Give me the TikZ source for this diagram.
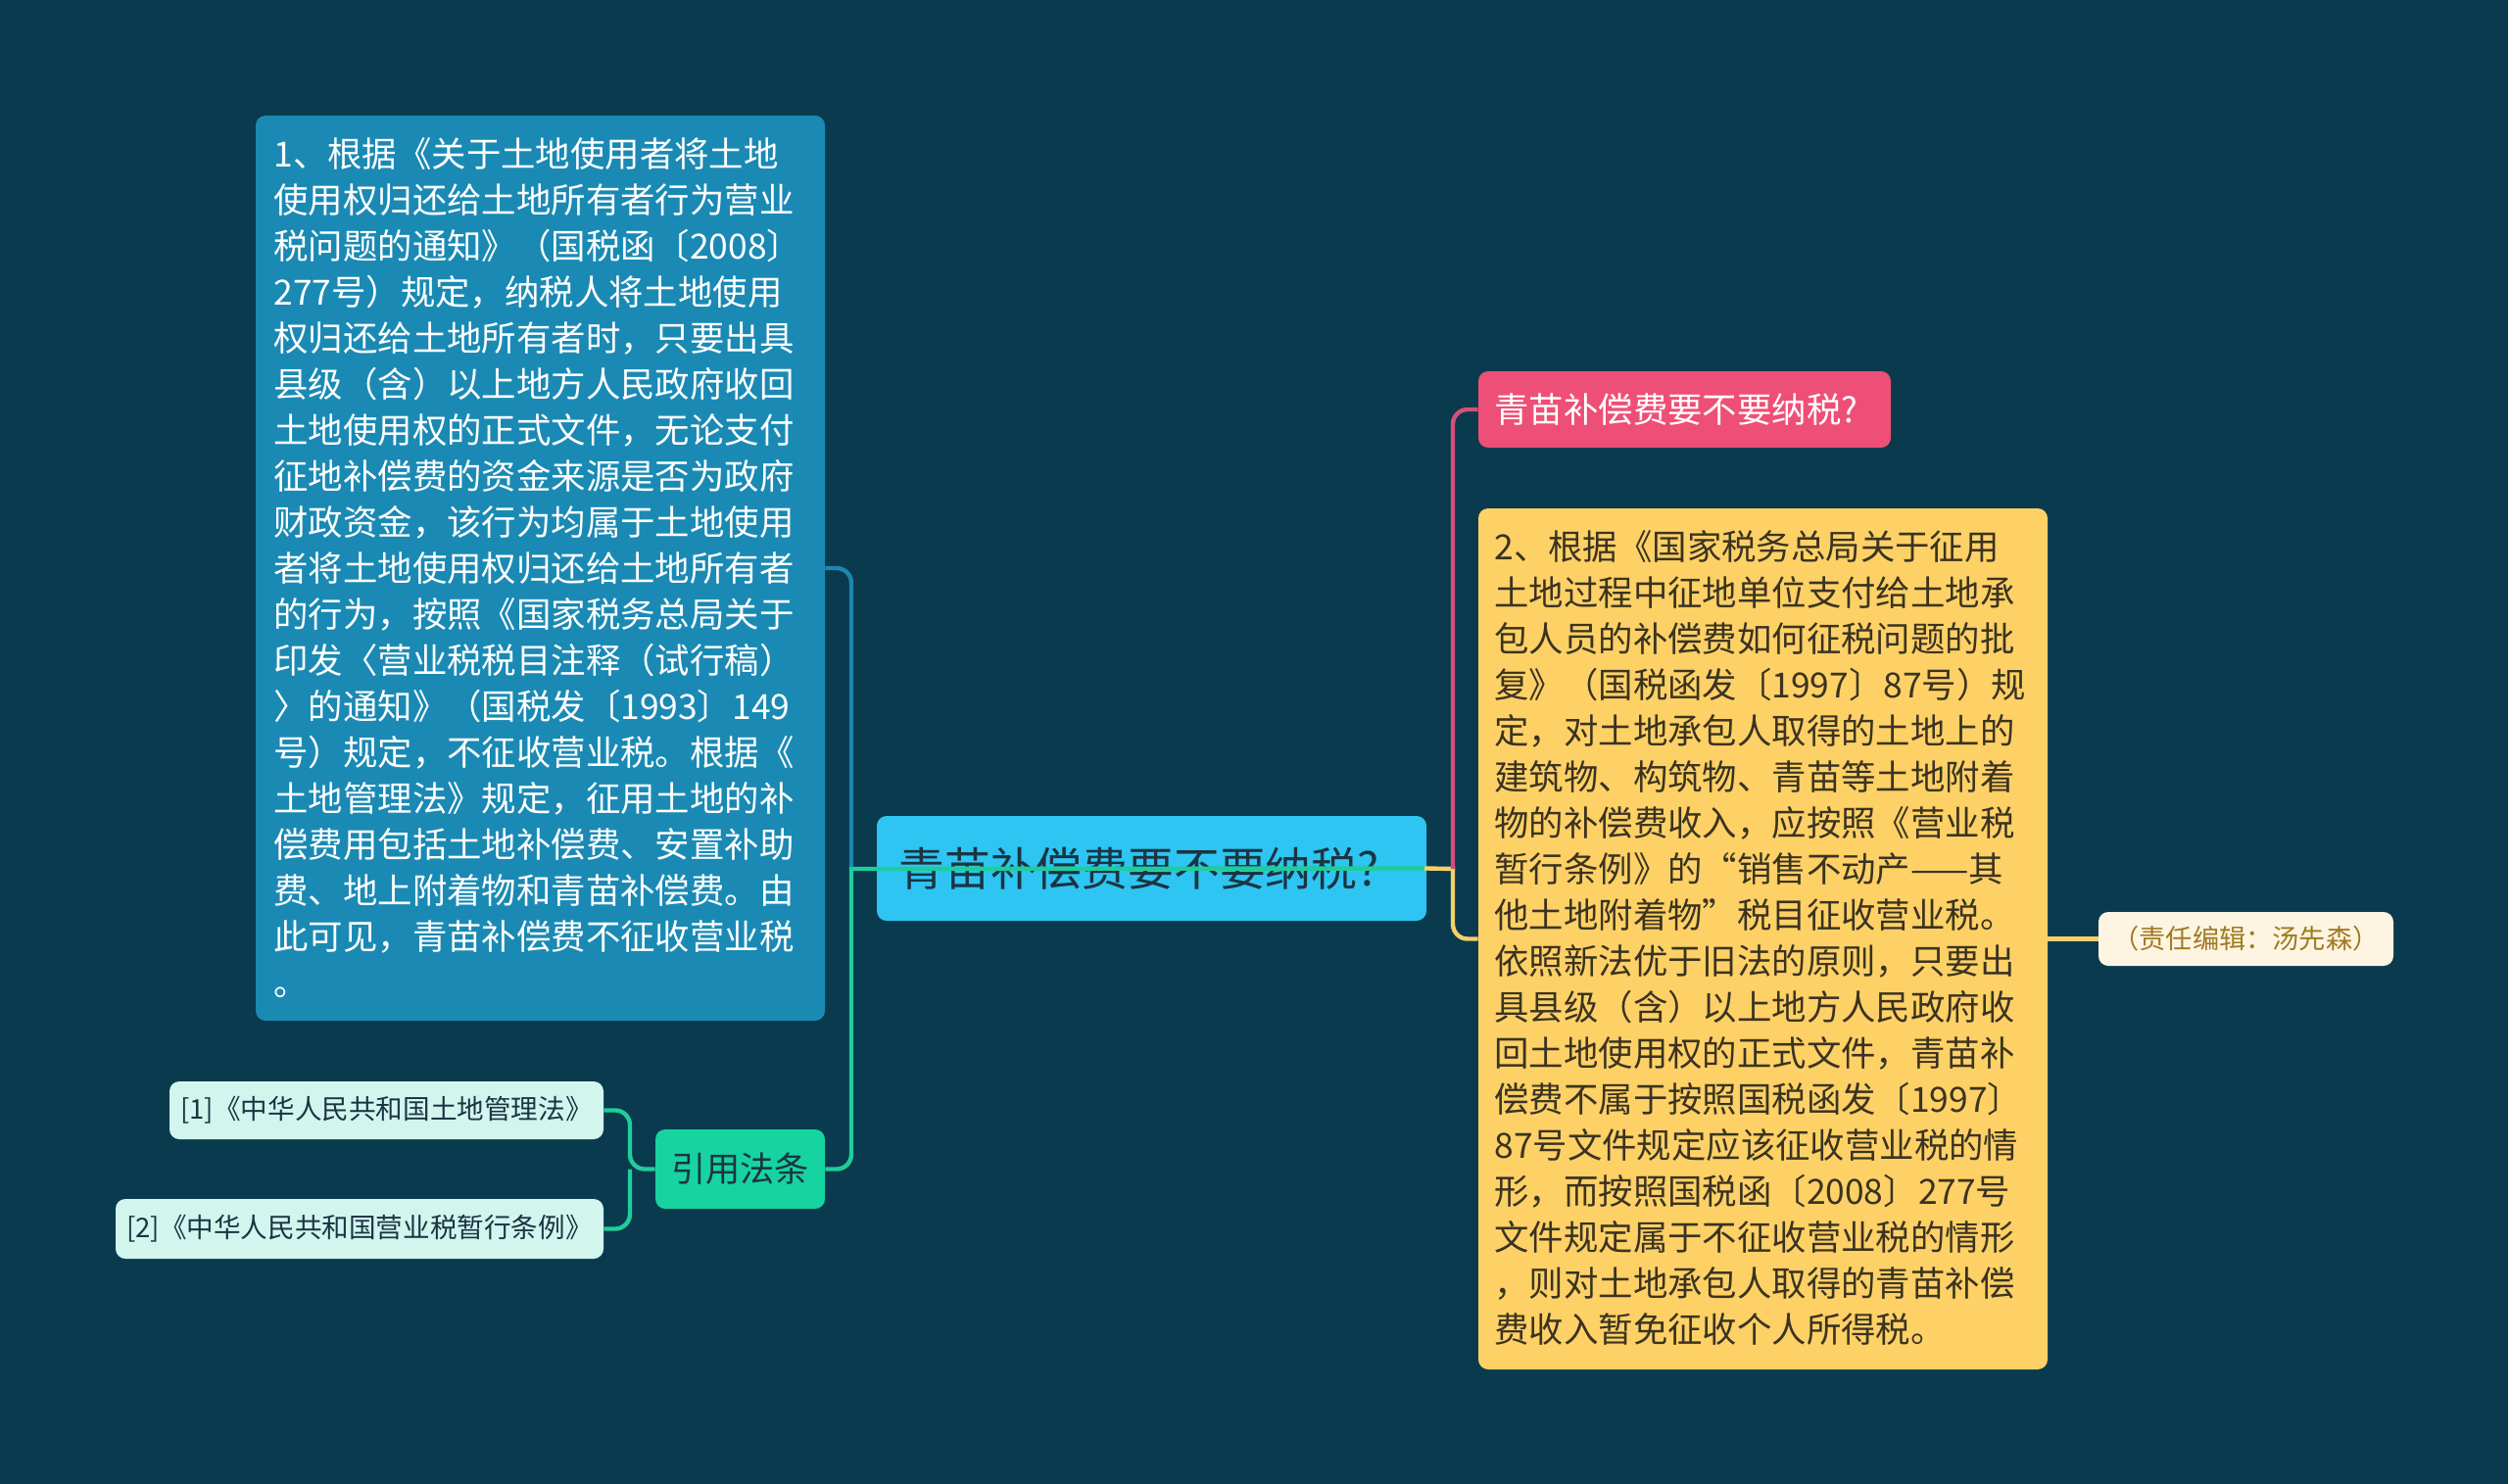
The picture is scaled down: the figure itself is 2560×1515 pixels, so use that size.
\documentclass[tikz,border=0pt]{standalone}
\usepackage{fontspec}
\newfontfamily\cjk{Noto Sans CJK SC}
\definecolor{bg}{HTML}{0A3A4D}
\definecolor{cblue}{HTML}{1A8AB4}
\definecolor{ccenter}{HTML}{2EC5F2}
\definecolor{cpink}{HTML}{EE4F76}
\definecolor{cyellow}{HTML}{FDD166}
\definecolor{cnote}{HTML}{FDF5E1}
\definecolor{cnotetxt}{HTML}{A07A22}
\definecolor{cgreen}{HTML}{16D3A0}
\definecolor{cmint}{HTML}{D2F6EE}
\definecolor{lgreen}{HTML}{1ECD9B}
\definecolor{lblue}{HTML}{1E86AE}
\definecolor{lpink}{HTML}{D64F79}
\definecolor{lyellow}{HTML}{F4D06A}
\definecolor{darktxt}{HTML}{1B3442}
\definecolor{yeltxt}{HTML}{3B3320}
\begin{document}
\begin{tikzpicture}[x=0.5pt,y=-0.5pt,
  box/.style={rounded corners=5pt, inner sep=0pt, draw=none},
  para/.style={inner sep=0pt, anchor=north west, align=left, font=\cjk\fontsize{17.7pt}{23.5pt}\selectfont},
  conn/.style={line width=2.2pt, rounded corners=7.5pt},
  sharp/.style={line width=2.2pt, line cap=rect}
]
\useasboundingbox (0,0) rectangle (2560,1515);
\fill[bg] (0,0) rectangle (2560,1515);

\coordinate (jL) at (869,887);
\coordinate (jR) at (1483,887);

% nodes
\node[box, fill=cblue, minimum width=290.5pt, minimum height=462pt] (blue) at (551.5,580) {};
\node[para, text=white] (bluetxt) at (279,135) {\rule{0pt}{17.5pt}1、根据《关于土地使用者将土地\\
使用权归还给土地所有者行为营业\\
税问题的通知》（国税函〔2008〕\\
277号）规定，纳税人将土地使用\\
权归还给土地所有者时，只要出具\\
县级（含）以上地方人民政府收回\\
土地使用权的正式文件，无论支付\\
征地补偿费的资金来源是否为政府\\
财政资金，该行为均属于土地使用\\
者将土地使用权归还给土地所有者\\
的行为，按照《国家税务总局关于\\
印发〈营业税税目注释（试行稿）\\
〉的通知》（国税发〔1993〕149\\
号）规定，不征收营业税。根据《\\
土地管理法》规定，征用土地的补\\
偿费用包括土地补偿费、安置补助\\
费、地上附着物和青苗补偿费。由\\
此可见，青苗补偿费不征收营业税\\
。};

\node[box, fill=ccenter, minimum width=280.5pt, minimum height=53.5pt] (center) at (1175.5,886.5) {};
\node[inner sep=0pt, anchor=west, text=darktxt, font=\cjk\fontsize{23.4pt}{28pt}\selectfont] (centertxt) at (917,887) {青苗补偿费要不要纳税?};

\node[box, fill=cpink, minimum width=210.5pt, minimum height=39pt] (pink) at (1719.5,418) {};
\node[inner sep=0pt, anchor=west, text=white, font=\cjk\fontsize{17.7pt}{21pt}\selectfont] (pinktxt) at (1525,418) {青苗补偿费要不要纳税?};

\node[box, fill=cyellow, minimum width=290.5pt, minimum height=439.5pt] (yellow) at (1799.5,958.5) {};
\node[para, text=yeltxt] (yellowtxt) at (1525,536) {\rule{0pt}{17.5pt}2、根据《国家税务总局关于征用\\
土地过程中征地单位支付给土地承\\
包人员的补偿费如何征税问题的批\\
复》（国税函发〔1997〕87号）规\\
定，对土地承包人取得的土地上的\\
建筑物、构筑物、青苗等土地附着\\
物的补偿费收入，应按照《营业税\\
暂行条例》的“销售不动产——其\\
他土地附着物”税目征收营业税。\\
依照新法优于旧法的原则，只要出\\
具县级（含）以上地方人民政府收\\
回土地使用权的正式文件，青苗补\\
偿费不属于按照国税函发〔1997〕\\
87号文件规定应该征收营业税的情\\
形，而按照国税函〔2008〕277号\\
文件规定属于不征收营业税的情形\\
，则对土地承包人取得的青苗补偿\\
费收入暂免征收个人所得税。};

\node[box, fill=cnote, text=cnotetxt, minimum width=150.5pt, minimum height=27.5pt, font=\cjk\fontsize{13.6pt}{16pt}\selectfont] (note) at (2292.5,958.5) {（责任编辑：汤先森）};

\node[box, fill=cgreen, text=darktxt, minimum width=86.5pt, minimum height=40.5pt, font=\cjk\fontsize{17.6pt}{21pt}\selectfont] (law) at (755.5,1193.5) {引用法条};

\node[box, fill=cmint, text=darktxt, minimum width=221.5pt, minimum height=29.5pt, font=\cjk\fontsize{13.8pt}{16pt}\selectfont] (ref1) at (394.5,1133.5) {[1]《中华人民共和国土地管理法》};
\node[box, fill=cmint, text=darktxt, minimum width=249pt, minimum height=30.5pt, font=\cjk\fontsize{13.8pt}{16pt}\selectfont] (ref2) at (367,1254.5) {[2]《中华人民共和国营业税暂行条例》};

% connectors
\draw[conn, lblue] (blue.east) -| (jL);
\draw[conn, lgreen] (jL) |- (law.east);
\draw[sharp, lgreen] (center.east) -- (jL);
\coordinate (jLaw) at (643,1193.5);
\draw[conn, lgreen] (law.west) -- (jLaw) |- (ref1.east);
\draw[conn, lgreen] (jLaw) |- (ref2.east);

\draw[conn, lyellow] (jR) |- (yellow.west);
\draw[sharp, lyellow] (center.east) -- (jR);
\draw[conn, lpink] (jR) |- (pink.west);
\draw[line width=2.2pt, lyellow] (yellow.east) -- (note.west);
\end{tikzpicture}
\end{document}
